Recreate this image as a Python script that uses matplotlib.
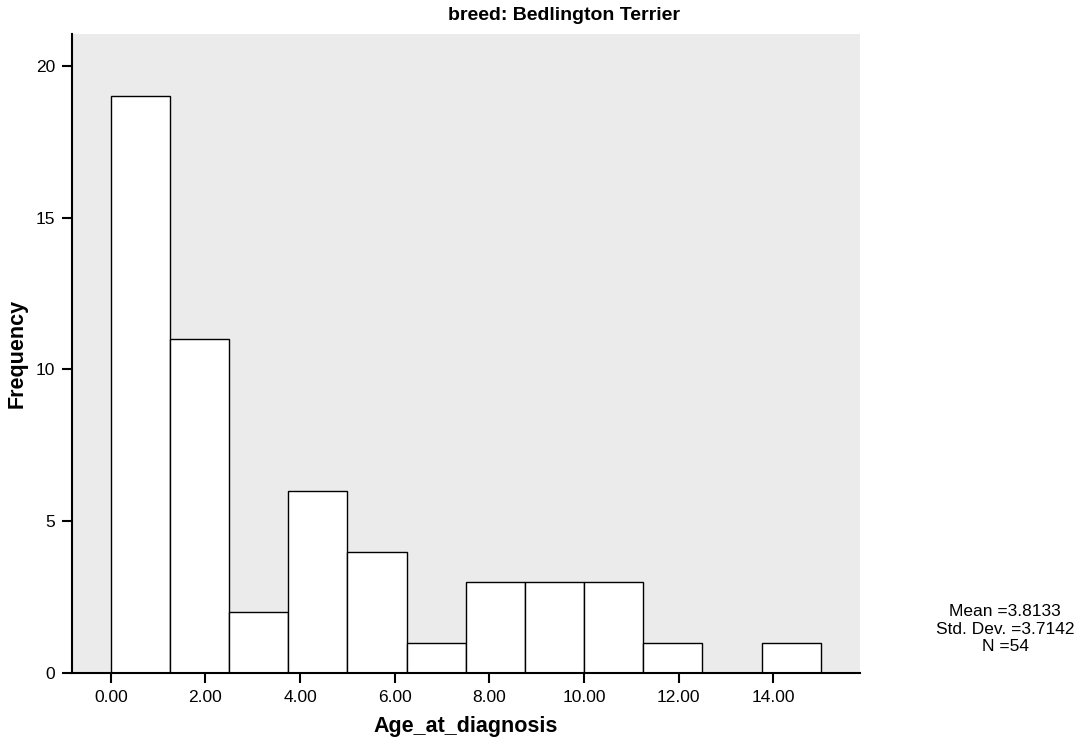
import numpy as np
import matplotlib
matplotlib.use("Agg")
import matplotlib.pyplot as plt

plt.rcParams['font.family'] = ['Liberation Sans', 'DejaVu Sans']

# Histograma: bordas das classes e frequências
bin_edges = [0.0, 1.25, 2.5, 3.75, 5.0, 6.25, 7.5, 8.75, 10.0, 11.25, 12.5, 13.75, 15.0]
counts = [19, 11, 2, 6, 4, 1, 3, 3, 3, 1, 0, 1]
x_ticks = [0, 2, 4, 6, 8, 10, 12, 14]
y_ticks = [0, 5, 10, 15, 20]
stats_lines = ["Mean =3.8133", "Std. Dev. =3.7142", "N =54"]

fig = plt.figure(figsize=(10.84, 7.44), dpi=100)
ax = fig.add_axes([72 / 1084, 1 - 673 / 744, (860 - 72) / 1084, (673 - 34) / 744])
ax.set_facecolor('#ebebeb')

lefts = np.array(bin_edges[:-1])
widths = np.diff(bin_edges)
ax.bar(lefts, counts, width=widths, align='edge', color='white',
       edgecolor='black', linewidth=1.0)

ax.set_xlim(-0.82, 15.83)
ax.set_ylim(0, 21.05)
ax.set_xticks(x_ticks)
ax.set_xticklabels([f"{v:.2f}" for v in x_ticks])
ax.set_yticks(y_ticks)
ax.tick_params(direction='out', length=7, width=1.5, labelsize=12.5, pad=5)

for s in ['top', 'right']:
    ax.spines[s].set_visible(False)
for s in ['left', 'bottom']:
    ax.spines[s].set_linewidth(1.5)

ax.set_xlabel('Age_at_diagnosis', fontsize=15.5, fontweight='bold', labelpad=8)
ax.set_ylabel('Frequency', fontsize=15.5, fontweight='bold', labelpad=6)

fig.text(564 / 1084, 1 - 15 / 744, 'breed: Bedlington Terrier', ha='center', va='center',
         fontsize=14, fontweight='bold')

fig.text(1005 / 1084, 1 - 629 / 744, "\n".join(stats_lines), ha='center', va='center',
         fontsize=12.5, linespacing=1.2)

plt.savefig('out.png', dpi=100)
